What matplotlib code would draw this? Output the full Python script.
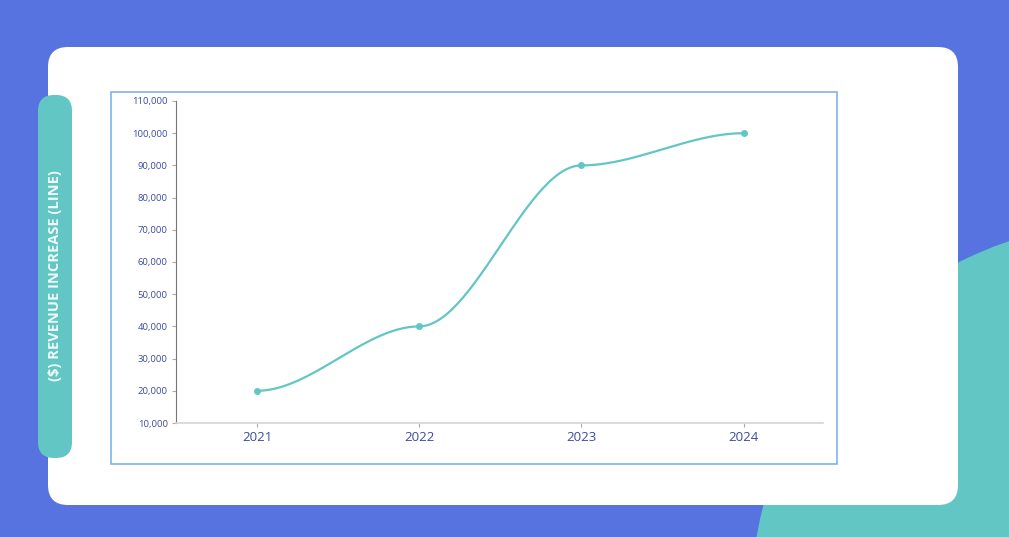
import matplotlib.pyplot as plt
import numpy as np
from matplotlib.patches import FancyBboxPatch, Circle, Rectangle

YEARS = ["2021", "2022", "2023", "2024"]
REVENUE = [20000, 40000, 90000, 100000]

W, H = 1009, 537
BLUE = "#5673E0"
TEAL = "#62C7C4"
LABEL = "#3A4BA0"


def fx(px):
    return px / W


def fy(py):
    return 1 - py / H


def smooth_curve(vals, n=60):
    # flat-tangent hermite between the points, like the source renderer
    xs, ys = [], []
    for i in range(len(vals) - 1):
        t = np.linspace(0, 1, n)
        s = 3 * t ** 2 - 2 * t ** 3
        xs.append(i + t)
        ys.append(vals[i] + (vals[i + 1] - vals[i]) * s)
    return np.concatenate(xs), np.concatenate(ys)


fig = plt.figure(figsize=(W / 100, H / 100), dpi=100)
fig.patch.set_facecolor(BLUE)

bg = fig.add_axes([0, 0, 1, 1])
bg.set_xlim(0, W)
bg.set_ylim(H, 0)
bg.axis("off")
bg.add_patch(Circle((1130, 600), 378, color=TEAL, zorder=1))
bg.add_patch(FancyBboxPatch((48 + 20, 47 + 20), 910 - 40, 458 - 40,
                            boxstyle="round,pad=20", fc="white", ec="none", zorder=2))
bg.add_patch(FancyBboxPatch((38 + 16, 95 + 16), 34 - 32, 363 - 32,
                            boxstyle="round,pad=16", fc=TEAL, ec="none", zorder=3))
bg.add_patch(Rectangle((111, 92), 726, 372, fc="white", ec="#7FB3EC", lw=1.2, zorder=3))
bg.text(55, 276, "($) REVENUE INCREASE (LINE)", rotation=90, ha="center", va="center",
        color="white", fontsize=10.5, fontfamily="Open Sans", fontweight="bold",
        alpha=0.9, zorder=4)

ax = fig.add_axes([fx(176), fy(423), fx(823) - fx(176), fy(101) - fy(423)])
ax.set_facecolor("none")
cx, cy = smooth_curve(REVENUE)
ax.plot(cx, cy, color=TEAL, lw=1.6)
ax.plot(range(len(YEARS)), REVENUE, "o", color=TEAL, ms=4)
ax.set_xlim(-0.5, 3.49)
ax.set_ylim(10000, 110000)
ax.set_xticks(range(len(YEARS)))
ax.set_xticklabels(YEARS, fontsize=9.5, color=LABEL, fontfamily="Open Sans")
ax.set_yticks(np.arange(10000, 110001, 10000))
ax.set_yticklabels([f"{v:,}" for v in range(10000, 110001, 10000)],
                   fontsize=6.8, color=LABEL, fontfamily="Open Sans")
for s in ["top", "right"]:
    ax.spines[s].set_visible(False)
ax.spines["left"].set_color("#777777")
ax.spines["bottom"].set_color("#d6d6d6")
ax.spines["bottom"].set_linewidth(1.2)
ax.tick_params(axis="both", length=3, color="#aaaaaa", pad=3)

fig.savefig("out.png", dpi=100, facecolor=fig.get_facecolor())
